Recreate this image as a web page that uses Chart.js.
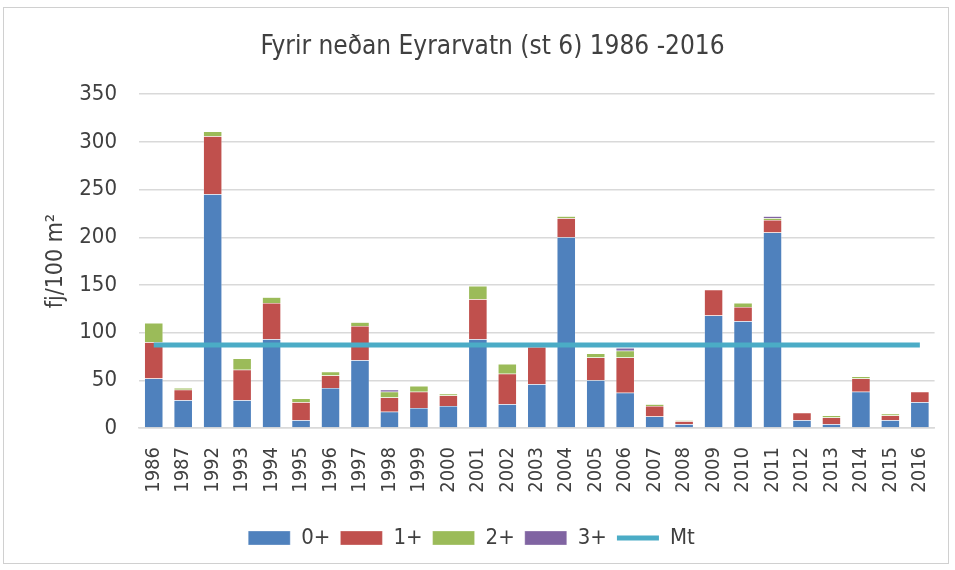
<!DOCTYPE html>
<html>
<head>
<meta charset="utf-8">
<script src="https://cdn.jsdelivr.net/npm/chart.js@4"></script>
<style>
  html, body { margin: 0; padding: 0; background: #fff; }
  .frame { position: absolute; left: 3px; top: 7px; width: 946px; height: 557px; border: 1px solid #d0d0d0; box-sizing: border-box; }
  .wrap { position: absolute; left: 0; top: 0; width: 955px; height: 570px; }
</style>
</head>
<body>
<div class="frame"></div>
<div class="wrap"><canvas id="chart" width="955" height="570"></canvas></div>
<script>
// Data
const years = ['1986', '1987', '1992', '1993', '1994', '1995', '1996', '1997', '1998', '1999', '2000',
    '2001', '2002', '2003', '2004', '2005', '2006', '2007', '2008', '2009', '2010',
    '2011', '2012', '2013', '2014', '2015', '2016'];
const age0 = [52, 29, 245, 29, 93, 8, 42, 71, 17, 21, 23, 93, 25, 46, 200, 50, 37, 12, 4, 118, 112, 205, 8, 4, 38, 8, 27];
const age1 = [38, 11, 61, 32, 38, 19, 13, 36, 15, 17, 11, 42, 32, 39, 20, 24, 37, 11, 3, 27, 15, 13, 8, 7, 14, 5, 11];
const age2 = [20, 2, 5, 12, 6, 4, 4, 4, 6, 6, 2, 14, 10, 0, 2, 4, 7, 2, 1, 0, 4, 2, 0, 2, 2, 2, 0];
const age3 = [0, 0, 0, 0, 0, 0, 0, 0, 2, 0, 0, 0, 0, 0, 0, 0, 3, 0, 0, 0, 0, 2, 0, 0, 0, 0, 0];
const meanValue = 87;
const mt = years.map(() => meanValue);

const font = "'Liberation Sans Narrow', 'DejaVu Sans Condensed', 'Open Sans', sans-serif";
const textColor = '#404040';

function barSet(label, data, color) {
    return {
        type: 'bar',
        label: label,
        data: data,
        backgroundColor: color,
        borderColor: 'rgba(255,255,255,0.6)',
        borderWidth: 0.5,
        pointStyle: 'rect',
        barPercentage: 1,
        categoryPercentage: 0.63,
        order: 2
    };
}

// nudge the legend a bit to the left, like in the original
const legendShift = {
    id: 'legendShift',
    afterLayout(chart) {
        chart.legend.left -= 21;
        chart.legend.right -= 21;
    }
};

const ctx = document.getElementById('chart').getContext('2d');
const chart = new Chart(ctx, {
    data: {
        labels: years,
        datasets: [
            barSet('0+', age0, '#4F81BD'),
            barSet('1+', age1, '#C0504D'),
            barSet('2+', age2, '#9BBB59'),
            barSet('3+', age3, '#8064A2'),
            {
                type: 'line',
                label: 'Mt',
                data: mt,
                borderColor: '#4BACC6',
                backgroundColor: '#4BACC6',
                borderWidth: 5,
                pointRadius: 0,
                pointStyle: 'line',
                stack: 'mt',
                order: 1
            }
        ]
    },
    plugins: [legendShift],
    options: {
        responsive: false,
        animation: false,
        layout: { padding: { left: 38, right: 8, top: 9, bottom: 11 } },
        plugins: {
            title: {
                display: true,
                text: 'Fyrir neðan Eyrarvatn (st 6) 1986 -2016',
                color: textColor,
                font: { family: font, size: 26, weight: 'normal' },
                padding: { top: 23, bottom: 31 }
            },
            legend: {
                position: 'bottom',
                labels: {
                    usePointStyle: true,
                    pointStyleWidth: 42,
                    boxHeight: 14,
                    color: textColor,
                    font: { family: font, size: 22 },
                    padding: 10,
                    sort: (a, b) => a.datasetIndex - b.datasetIndex
                }
            },
            tooltip: { enabled: false }
        },
        scales: {
            x: {
                stacked: true,
                grid: { display: false },
                border: { color: '#d9d9d9', width: 1.5 },
                afterFit: (scale) => { scale.height = 89; },
                ticks: {
                    color: textColor,
                    font: { family: font, size: 20 },
                    maxRotation: 90,
                    minRotation: 90,
                    autoSkip: false,
                    padding: 11
                }
            },
            y: {
                stacked: true,
                min: 0,
                max: 350,
                grid: { color: '#d9d9d9', lineWidth: 1.5, drawTicks: false },
                border: { display: false },
                afterFit: (scale) => { scale.width = 101; },
                ticks: {
                    stepSize: 50,
                    color: textColor,
                    font: { family: font, size: 22 },
                    padding: 22
                },
                title: {
                    display: true,
                    text: 'fj/100 m²',
                    color: textColor,
                    font: { family: font, size: 23 },
                    padding: { top: 4, bottom: 4 }
                }
            }
        }
    }
});
</script>
</body>
</html>
